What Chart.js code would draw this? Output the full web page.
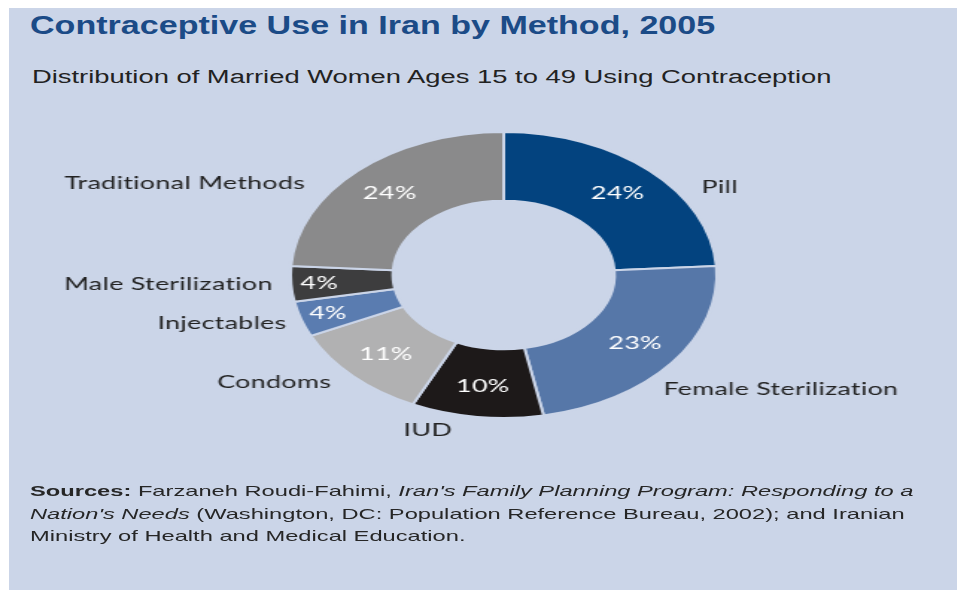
<!DOCTYPE html>
<html>
<head>
<meta charset="utf-8">
<title>Contraceptive Use in Iran by Method, 2005</title>
<script src="https://cdn.jsdelivr.net/npm/chart.js@4"></script>
<style>
  html, body { margin: 0; padding: 0; background: #ffffff; }
  body { width: 957px; height: 590px; position: relative; overflow: hidden;
         font-family: "Liberation Sans", Arial, sans-serif; }
  #panel { position: absolute; left: 9px; top: 8px; width: 948px; height: 582px; background: #cbd5e8; }
  .txt { position: absolute; white-space: nowrap; transform-origin: 0 0; }
  #title { left: 21px; top: 4px; font-size: 26px; line-height: 26px; font-weight: bold;
           color: #1b4b87; transform: scaleX(1.31); }
  #subtitle { left: 23px; top: 60px; font-size: 18px; line-height: 18px; color: #222222;
              transform: scaleX(1.52); }
  #sources { left: 21px; top: 472px; font-size: 15px; line-height: 22.5px; color: #262626;
             transform: scaleX(1.578); }
  #stage { position: absolute; left: 0; top: 0; width: 636px; height: 582px;
           transform-origin: 0 0; transform: scaleX(1.49); }
  #chart { display: block; }
</style>
</head>
<body>
<div id="panel">
  <div id="title" class="txt">Contraceptive Use in Iran by Method, 2005</div>
  <div id="subtitle" class="txt">Distribution of Married Women Ages 15 to 49 Using Contraception</div>
  <div id="stage"><canvas id="chart" width="636" height="582"></canvas></div>
  <div id="sources" class="txt"><b>Sources:</b> Farzaneh Roudi-Fahimi, <i>Iran's Family Planning Program: Responding to a</i><br><i>Nation's Needs</i> (Washington, DC: Population Reference Bureau, 2002); and Iranian<br>Ministry of Health and Medical Education.</div>
</div>
<script>
// Methods, clockwise from 12 o'clock
const categories = ['Pill', 'Female Sterilization', 'IUD', 'Condoms', 'Injectables', 'Male Sterilization', 'Traditional Methods'];
// Share of married women 15-49 using contraception, percent
const shares = [24, 23, 10, 11, 4, 4, 24];
const sliceColors = ['#03437f', '#5677a8', '#1d1919', '#b1b1b2', '#5a7cb0', '#3d3d3e', '#8a8a8b'];
// Where each method name sits, relative to the ring centre (canvas px)
const labelOffsets = [[145, -88], [186, 114], [-51, 155], [-154, 107], [-189, 48], [-225, 9], [-214, -92]];

const sliceLabels = {
  id: 'sliceLabels',
  afterDatasetsDraw(chart) {
    const ctx = chart.ctx;
    const meta = chart.getDatasetMeta(0);
    const values = chart.data.datasets[0].data;
    ctx.save();
    ctx.textAlign = 'center';
    ctx.textBaseline = 'middle';
    // a hair of tracking keeps the "ti" ligature from forming
    if ('letterSpacing' in ctx) ctx.letterSpacing = '0.2px';
    meta.data.forEach((arc, i) => {
      const p = arc.getProps(['x', 'y', 'startAngle', 'endAngle', 'innerRadius', 'outerRadius'], true);
      const mid = (p.startAngle + p.endAngle) / 2;
      const r = values[i] < 5 ? p.outerRadius - 19 : (p.innerRadius + p.outerRadius) / 2 + 3;
      ctx.fillStyle = '#ffffff';
      ctx.font = '18px Lato, "Liberation Sans", sans-serif';
      ctx.fillText(values[i] + '%', p.x + Math.cos(mid) * r, p.y + Math.sin(mid) * r);

      const [dx, dy] = labelOffsets[i];
      ctx.fillStyle = '#222222';
      ctx.fillText(chart.data.labels[i], p.x + dx, p.y + dy);
    });
    ctx.restore();
  }
};

new Chart(document.getElementById('chart'), {
  type: 'doughnut',
  data: {
    labels: categories,
    datasets: [{
      data: shares,
      backgroundColor: sliceColors,
      borderColor: '#cbd5e8',
      borderWidth: 2,
      hoverOffset: 0
    }]
  },
  options: {
    responsive: false,
    animation: false,
    cutout: '52%',
    layout: { padding: { left: 28, right: 0, top: 123, bottom: 171 } },
    plugins: {
      legend: { display: false },
      tooltip: { enabled: false }
    }
  },
  plugins: [sliceLabels]
});
</script>
</body>
</html>
